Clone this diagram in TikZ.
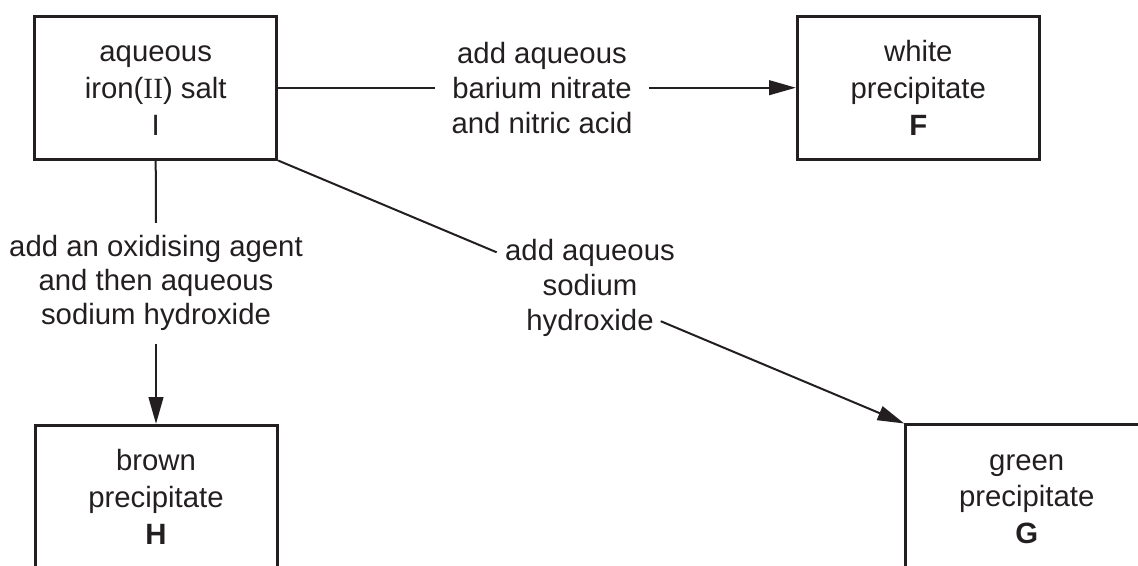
\documentclass[tikz,border=0pt]{standalone}
\usepackage{fontspec}
\setmainfont{Liberation Sans}
\newfontfamily\romanfont{Liberation Serif}
\usetikzlibrary{arrows.meta,calc}
\definecolor{ink}{HTML}{231F20}
\newcommand\tstr{\rule{0pt}{19pt}}
\newcommand\bstr{\rule[-3pt]{0pt}{3pt}}
\begin{document}
\begin{tikzpicture}[x=0.75pt,y=-0.75pt,
  box/.style={draw=ink, line width=2.25pt, minimum width=181.5pt, minimum height=107pt,
    inner sep=0pt, align=center, text=ink, font=\fontsize{22}{27.5}\selectfont},
  lab/.style={align=center, text=ink, inner xsep=12pt, inner ysep=6pt,
    font=\fontsize{22}{26}\selectfont},
  conn/.style={draw=ink, line width=1.5pt},
  arr/.style={conn, -{Triangle[length=20pt,width=11pt]}}]
\useasboundingbox (0,0) rectangle (1138,565);

\node[box] (I) at (155.7,87.7) {\tstr aqueous\\iron({\romanfont II}) salt\\I\bstr};
\node[box] (F) at (918.3,87.7) {\tstr white\\precipitate\\\textbf{F}\bstr};
\node[box] (H) at (156,496.7) {\tstr brown\\precipitate\\\textbf{H}\bstr};
\node[box] (G) at (1026.7,496.3) {\tstr green\\precipitate\\\textbf{G}\bstr};

\node[lab] (l1) at (542,87.7) {\tstr add aqueous\\barium nitrate\\and nitric acid\bstr};
\node[lab,font=\fontsize{22}{25.6}\selectfont] (l2) at (156,281)
  {\tstr add an oxidising agent\\and then aqueous\\sodium hydroxide\bstr};
\node[lab] (l3) at (590,286) {\tstr add aqueous\\sodium\\hydroxide\bstr};

\draw[conn] (I.east) -- (l1.west);
\draw[arr] (l1.east) -- (F.west);
\draw[conn] (I.south) -- (l2.north);
\draw[arr, shorten <=4pt] (l2.south) -- (H.north);
\coordinate (d1) at ($(I.south east)!0.349!(G.north west)$);
\coordinate (d2) at ($(I.south east)!0.611!(G.north west)$);
\draw[conn] (I.south east) -- (d1);
\draw[arr] (d2) -- (G.north west);
\end{tikzpicture}
\end{document}
